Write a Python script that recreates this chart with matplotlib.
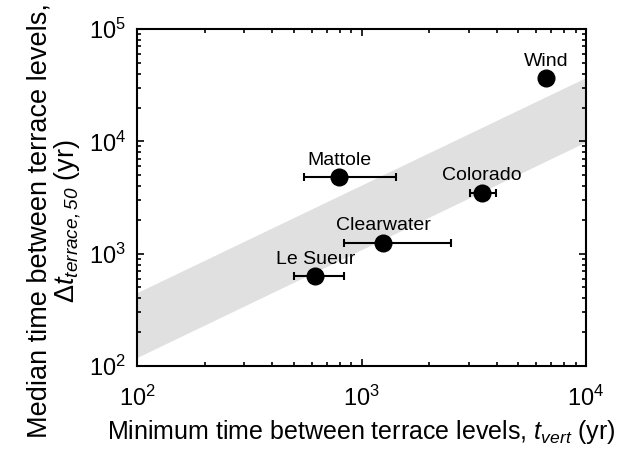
import numpy as np
import matplotlib
matplotlib.use('Agg')
import matplotlib.pyplot as plt
from matplotlib.ticker import LogLocator, NullFormatter

plt.rcParams['font.family'] = ['Liberation Sans', 'DejaVu Sans']
plt.rcParams['mathtext.fontset'] = 'custom'
plt.rcParams['mathtext.rm'] = 'Liberation Sans'
plt.rcParams['mathtext.it'] = 'Liberation Sans:italic'
plt.rcParams['mathtext.sf'] = 'Liberation Sans:italic'

# rivers and values
rivers = ['Wind', 'Mattole', 'Colorado', 'Clearwater', 'Le Sueur']
t_vert = [6640, 796, 3450, 1250, 622]
t_terrace = [36400, 4780, 3480, 1250, 631]
x_lo = [np.nan, 555, 3040, 834, 500]
x_hi = [np.nan, 1425, 3970, 2494, 834]

# shaded band edges
band_x = [100, 10000]
band_lo = [119, 9900]
band_hi = [450, 37000]


def main():
    fig = plt.figure(figsize=(6.27, 4.5), dpi=100)
    ax = fig.add_axes([137 / 627, 1 - 366 / 450, 449 / 627, 337 / 450])

    ax.fill_between(band_x, band_lo, band_hi, color='#e0e0e0', lw=0, zorder=1)

    for i in range(len(rivers)):
        if not np.isnan(x_lo[i]):
            ax.errorbar(t_vert[i], t_terrace[i],
                        xerr=[[t_vert[i] - x_lo[i]], [x_hi[i] - t_vert[i]]],
                        fmt='none', ecolor='black', elinewidth=1.5,
                        capsize=3, capthick=1.5, zorder=2)
    ax.plot(t_vert, t_terrace, 'o', color='black', ms=12, zorder=3)

    for name, x, y in zip(rivers, t_vert, t_terrace):
        ax.annotate(name, (x, y), xytext=(0, 9), textcoords='offset points',
                    ha='center', va='baseline', fontsize=14)

    ax.set_xscale('log')
    ax.set_yscale('log')
    ax.set_xlim(1e2, 1e4)
    ax.set_ylim(1e2, 1e5)
    ax.xaxis.set_minor_locator(LogLocator(subs=np.arange(2, 10)))
    ax.yaxis.set_minor_locator(LogLocator(subs=np.arange(2, 10)))
    ax.xaxis.set_minor_formatter(NullFormatter())
    ax.yaxis.set_minor_formatter(NullFormatter())
    ax.tick_params(which='both', direction='in', top=True, right=True,
                   width=1.2)
    ax.tick_params(which='major', length=5, labelsize=17)
    ax.tick_params(axis='x', which='major', pad=14)
    ax.tick_params(axis='y', which='major', pad=8)
    ax.tick_params(which='minor', length=3)
    for s in ax.spines.values():
        s.set_linewidth(1.5)

    ax.set_xlabel(r'Minimum time between terrace levels, $\mathsf{t}_{\mathsf{vert}}$ (yr)',
                  fontsize=18)
    ax.xaxis.set_label_coords(361.5 / 627, 1 - 418 / 450,
                              transform=fig.transFigure)
    ax.set_ylabel('Median time between terrace levels,\n'
                  r'$\Delta\mathsf{t}_{\mathsf{terrace,50}}$ (yr)',
                  fontsize=19.5, linespacing=1.0)
    ax.yaxis.set_label_coords(83 / 627, 1 - 221 / 450,
                              transform=fig.transFigure)

    fig.savefig('out.png', dpi=100)


if __name__ == '__main__':
    main()
